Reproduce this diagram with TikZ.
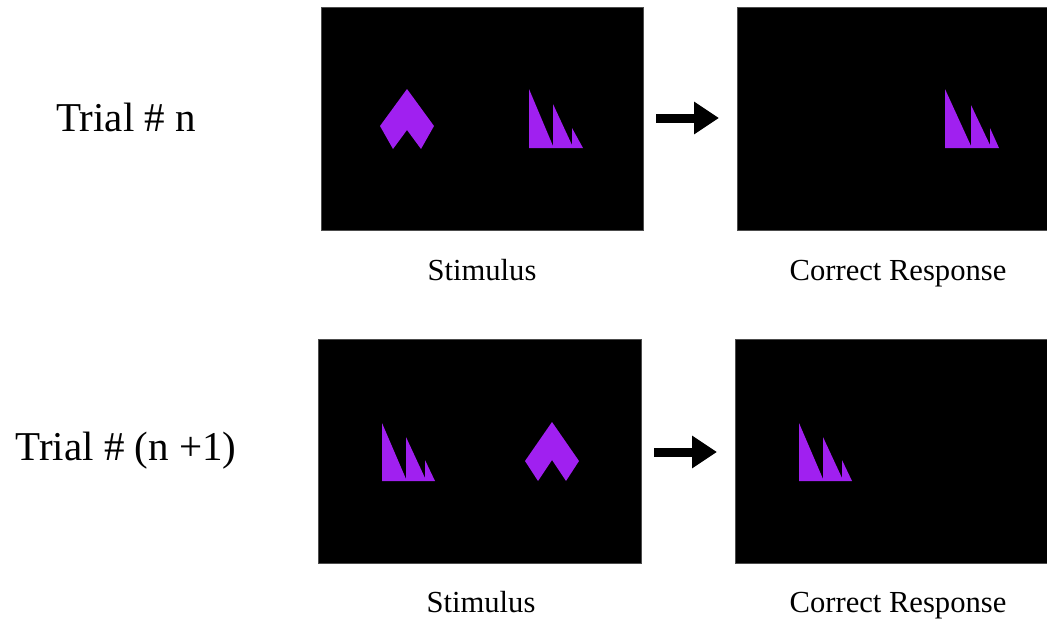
\documentclass[tikz,border=0pt]{standalone}
\usepackage{fontspec}
\setmainfont{Liberation Serif}
\usetikzlibrary{arrows.meta}
\definecolor{shapecol}{RGB}{160,32,240}
\tikzset{
  screen/.style={fill=black, draw=black!70, line width=0.6pt, inner sep=0pt, minimum height=223pt},
  caption/.style={font=\fontsize{30.6}{34}\selectfont, anchor=base, inner sep=0pt},
  trial/.style={font=\fontsize{41}{46}\selectfont, anchor=base, inner sep=0pt},
  glyph/.style={fill=shapecol, draw=none},
  nextarrow/.style={line width=9pt, -{Triangle[length=25pt, width=31pt]}}
}
\begin{document}
\begin{tikzpicture}[x=1pt, y=-1pt]
\useasboundingbox (0,0) rectangle (1047,619);

% screens
\node[screen, minimum width=322pt] (s1) at (482,118.5) {};
\node[screen, minimum width=310pt] (r1) at (892,118.5) {};
\node[screen, minimum width=323pt, minimum height=224pt] (s2) at (479.5,451) {};
\node[screen, minimum width=312pt, minimum height=224pt] (r2) at (891,451) {};

% row labels
\node[trial] (t1) at (126,131.5) {Trial \# n};
\node[trial] (t2) at (126,460) {Trial \# (n +1)};

% captions
\node[caption] (c1) at (482,280) {Stimulus};
\node[caption] (c2) at (898,280) {Correct Response};
\node[caption] (c3) at (481,612) {Stimulus};
\node[caption] (c4) at (898,612) {Correct Response};

% arrows between stimulus and response
\coordinate (a1s) at (656,118);
\coordinate (a1e) at (719,118);
\coordinate (a2s) at (654,452);
\coordinate (a2e) at (717,452);
\draw[nextarrow] (a1s) -- (a1e);
\draw[nextarrow] (a2s) -- (a2e);

% chevron shapes
\fill[glyph] (407,89) -- (434,126) -- (421,149) -- (407,130) -- (393,149) -- (380,126) -- cycle;
\fill[glyph] (552,422) -- (579,461) -- (566,481) -- (552,460) -- (538,481) -- (525,461) -- cycle;

% sail shapes
\fill[glyph] (529,148) -- (529,89) -- (553,146) -- (553,104) -- (572,145) -- (572,128) -- (583,148) -- cycle;
\fill[glyph] (945,148) -- (945,89) -- (971,146) -- (971,105) -- (990,145) -- (990,128) -- (999,148) -- cycle;
\fill[glyph] (382,481) -- (382,423) -- (406,479) -- (406,437) -- (425,478) -- (425,460) -- (435,481) -- cycle;
\fill[glyph] (799,481) -- (799,423) -- (823,479) -- (823,437) -- (842,478) -- (842,460) -- (852,481) -- cycle;
\end{tikzpicture}
\end{document}
